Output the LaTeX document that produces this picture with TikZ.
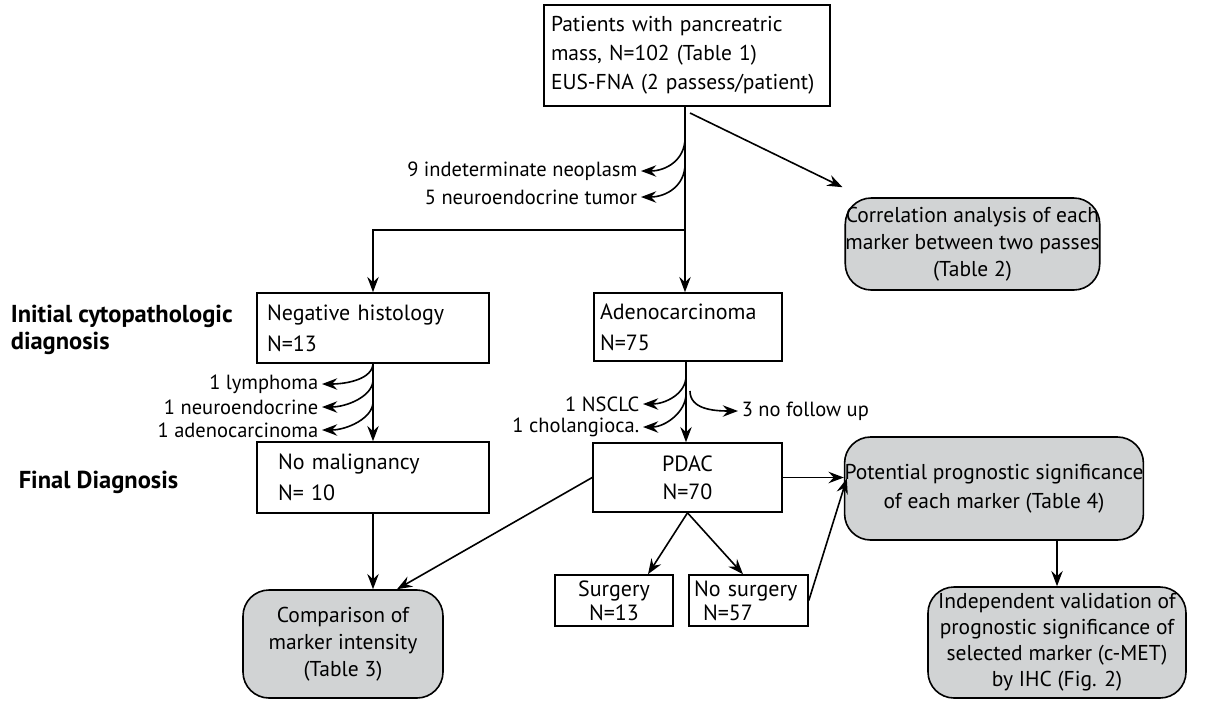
\documentclass[tikz,border=0pt]{standalone}
\usepackage{fontspec}
\setmainfont{PT Sans}
\usetikzlibrary{arrows.meta}
\definecolor{boxgray}{HTML}{D1D3D4}
\tikzset{
  arr/.style={-{Stealth[scale=1.5, inset=3.5pt]}},
  plainbox/.style={draw, rectangle, inner sep=0pt, font=\fontsize{22}{31}\selectfont},
  graybox/.style={draw, rectangle, rounded corners=26pt, fill=boxgray, inner sep=0pt, align=center, font=\fontsize{21.5}{27}\selectfont},
  lbl/.style={inner xsep=3pt, inner ysep=0pt, font=\fontsize{20.5}{22}\selectfont},
  side/.style={inner sep=0pt, align=left, font=\fontsize{24.5}{27}\bfseries\selectfont}
}
\begin{document}
\begin{tikzpicture}[x=1pt,y=-1pt, line width=1.6pt]
\useasboundingbox (0,0) rectangle (1217,705);

% boxes
\node[plainbox, minimum width=286, minimum height=101, text width=280, align=left, font=\fontsize{21.5}{29}\selectfont] (top) at (687,55.5)
  {\hspace*{4pt}Patients with pancreatric\\\hspace*{4pt}mass, N=102 (Table 1)\\\hspace*{4pt}EUS-FNA (2 passess/patient)};
\node[graybox, minimum width=221, minimum height=92] (corr) at (972.5,244)
  {Correlation analysis of each\\marker between two passes\\(Table 2)};
\node[plainbox, minimum width=232, minimum height=70, text width=212, align=left] (neg) at (373,328)
  {Negative histology\\N=13};
\node[plainbox, minimum width=188, minimum height=68, text width=176, align=left] (adeno) at (688,327)
  {Adenocarcinoma\\N=75};
\node[plainbox, minimum width=232, minimum height=71, text width=190, align=left] (nomal) at (373,477.5)
  {No malignancy\\N= 10};
\node[plainbox, minimum width=189, minimum height=69, align=center, font=\fontsize{22}{28}\selectfont] (pdac) at (687.5,477.5)
  {PDAC\\N=70};
\node[plainbox, minimum width=118, minimum height=51, align=center, font=\fontsize{22}{24}\selectfont] (surg) at (614,600.5)
  {Surgery\\N=13};
\node[plainbox, minimum width=119, minimum height=51, text width=109, align=left, font=\fontsize{22}{24}\selectfont] (nosurg) at (748.5,600.5)
  {No surgery\\\hspace*{9pt}N=57};
\node[graybox, minimum width=218, minimum height=103, font=\fontsize{21.5}{29}\selectfont] (pot) at (994,488.5)
  {Potential prognostic significance\\of each marker (Table 4)};
\node[graybox, minimum width=258, minimum height=111, font=\fontsize{21.5}{26}\selectfont] (indep) at (1057,642.5)
  {Independent validation of\\prognostic significance of\\selected marker (c-MET)\\by IHC (Fig. 2)};
\node[graybox, minimum width=200, minimum height=108] (comp) at (343,644)
  {Comparison of\\marker intensity\\(Table 3)};

% side labels
\node[side, anchor=west] (lab1) at (10,329.5) {Initial cytopathologic\\diagnosis};
\node[side, anchor=west] (lab2) at (18,482) {Final Diagnosis};

% branch labels
\node[lbl, anchor=east] (n1) at (641,171) {9 indeterminate neoplasm};
\node[lbl, anchor=east] (n2) at (641,197) {5 neuroendocrine tumor};
\node[lbl, anchor=east] (n3) at (322,384) {1 lymphoma};
\node[lbl, anchor=east] (n4) at (322,407) {1 neuroendocrine};
\node[lbl, anchor=east] (n5) at (322,430) {1 adenocarcinoma};
\node[lbl, anchor=east] (n6) at (643,404) {1 NSCLC};
\node[lbl, anchor=east] (n7) at (643,427) {1 cholangioca.};
\node[lbl, anchor=west] (n8) at (738,411) {3 no follow up};

% coordinates
\coordinate (j1) at (685,230);
\coordinate (t1) at (685,138);
\coordinate (t2) at (685,164);
\coordinate (u1) at (373,363);
\coordinate (u2) at (373,380);
\coordinate (u3) at (373,402);
\coordinate (v1) at (686,376);
\coordinate (v2) at (686,394);
\coordinate (v3) at (690,391);
\coordinate (c0) at (690,113);

% trunk and main arrows
\draw (top.south -| j1) -- (j1);
\draw[arr] (j1) -- (adeno.north -| j1);
\draw[arr] (j1) -| (neg.north);
\draw[arr] (c0) -- ([xshift=-2pt,yshift=10pt]corr.north west);
\draw[arr] (t1) .. controls +(0,22) and +(25,0) .. (n1.east);
\draw[arr] (t2) .. controls +(0,22) and +(25,0) .. (n2.east);

\draw[arr] (neg.south) -- (nomal.north);
\draw[arr] (u1) .. controls +(0,16) and +(25,0) .. (n3.east);
\draw[arr] (u2) .. controls +(0,16) and +(25,0) .. (n4.east);
\draw[arr] (u3) .. controls +(0,16) and +(25,0) .. (n5.east);

\draw[arr] (adeno.south -| v1) -- (pdac.north -| v1);
\draw[arr] (v1) .. controls +(0,18) and +(22,0) .. (n6.east);
\draw[arr] (v2) .. controls +(0,18) and +(22,0) .. (n7.east);
\draw[arr] (v3) .. controls +(0,18) and +(-25,0) .. (n8.west);

\draw[arr] (pdac.east) -- (pot.west |- pdac.east);
\draw[arr] (pdac.south) -- (surg.north -| 648,0);
\draw[arr] (pdac.south) -- (nosurg.north -| 743,0);
\draw[arr] (nosurg.east) -- ([xshift=3pt,yshift=10pt]pot.west);
\draw[arr] (pot.south -| indep.north) -- (indep.north);
\draw[arr] (nomal.south) -- (comp.north -| nomal.south);
\draw[arr] (pdac.west) -- ([xshift=54pt]comp.north);
\end{tikzpicture}
\end{document}
